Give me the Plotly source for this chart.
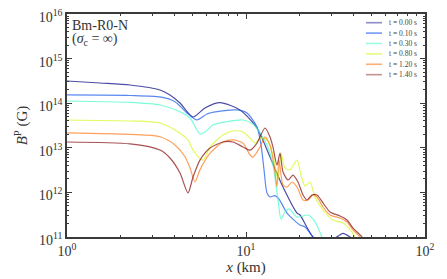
import plotly.graph_objects as go

# ---------------- data (x in km, B^P in G) ----------------
times = ["0.00", "0.10", "0.30", "0.80", "1.20", "1.40"]

x_t000 = [1.00, 1.53, 2.25, 3.31, 3.76, 4.28, 5.06, 5.90, 7.16, 9.26, 11.52, 13.62, 16.10,
          19.27, 20.03, 23.67, 27.63, 32.66, 34.83, 38.11, 43.35]
B_t000 = [3.15e14, 2.84e14, 2.56e14, 1.98e14, 1.53e14, 1.01e14, 4.91e13, 7.8e13, 1.03e14, 7.05e13,
          2.78e13, 6.2e12, 1.32e12, 3.45e11, 3.11e11, 1.0e11, 6.6e10, 1.05e11, 1.20e11, 1.0e11, 6.6e10]

x_t010 = [1.00, 2.25, 3.31, 4.01, 4.68, 5.32, 6.05, 6.89, 8.91, 10.13, 11.52, 12.13, 12.61, 13.10,
          13.62, 14.52, 15.29, 16.95, 20.03, 21.37, 23.67, 25.91]
B_t010 = [1.53e14, 1.49e14, 1.38e14, 1.08e14, 6.03e13, 4.20e13, 5.73e13, 6.45e13, 7.05e13, 6.03e13,
          2.93e13, 1.16e13, 3.2e12, 9.7e11, 7.9e11, 8.5e11, 7.1e11, 3.45e11, 1.86e11, 1.68e11, 1.0e11, 6.6e10]

x_t030 = [1.00, 2.25, 3.31, 4.28, 4.87, 5.53, 5.90, 6.54, 7.83, 9.62, 10.94, 11.98, 13.10, 14.15,
          15.10, 15.69, 16.52, 17.39, 19.27, 22.21, 23.98, 25.57, 26.93]
B_t030 = [1.12e14, 1.04e14, 9.1e13, 6.45e13, 4.66e13, 2.04e13, 2.26e13, 3.25e13, 3.85e13, 4.20e13,
          3.42e13, 2.15e13, 1.16e13, 4.1e12, 6.76e11, 2.53e11, 3.64e11, 4.25e11, 2.81e11, 3.11e11,
          2.40e11, 1.44e11, 8.6e10]

x_t080 = [1.00, 2.25, 3.31, 4.01, 4.74, 5.06, 5.75, 6.30, 7.44, 8.46, 9.62, 10.53, 11.23, 11.98,
          13.10, 14.15, 15.10, 15.69, 16.52, 17.61, 19.27, 20.29, 21.37, 22.78, 24.29, 26.93, 30.62,
          34.83, 39.10, 40.64, 43.35]
B_t080 = [4.20e13, 3.99e13, 3.60e13, 2.51e13, 1.50e13, 8.9e12, 5.3e12, 1.04e13, 1.94e13, 2.38e13,
          2.26e13, 1.66e13, 1.28e13, 1.66e13, 1.50e13, 6.9e12, 1.90e12, 7.6e12, 3.5e12, 3.2e12,
          5.3e12, 2.45e12, 1.39e12, 1.71e12, 7.9e11, 4.03e11, 2.40e11, 2.06e11, 1.30e11, 1.0e11, 6.6e10]

x_t120 = [1.00, 2.25, 3.31, 4.01, 4.56, 4.87, 5.19, 5.53, 6.30, 7.44, 8.46, 9.62, 10.53, 10.94,
          11.98, 12.77, 13.62, 14.52, 14.90, 15.29, 16.10, 16.95, 18.07, 19.27, 20.82, 22.21, 23.67,
          24.93, 26.93, 29.47, 33.51, 36.67, 39.61, 43.35, 46.2]
B_t120 = [2.15e13, 1.99e13, 1.77e13, 1.16e13, 6.3e12, 3.5e12, 1.71e12, 3.2e12, 7.6e12, 1.35e13,
          1.50e13, 1.28e13, 6.9e12, 6.2e12, 1.04e13, 1.75e13, 1.16e13, 2.86e12, 1.32e12, 5.3e12,
          1.47e12, 1.32e12, 1.71e12, 1.32e12, 6.76e11, 6.76e11, 8.75e11, 7.9e11, 4.7e11, 3.11e11,
          2.67e11, 2.17e11, 1.44e11, 1.0e11, 6.6e10]

x_t140 = [1.00, 2.25, 3.31, 3.76, 4.28, 4.74, 5.06, 5.53, 6.30, 7.44, 8.46, 9.62, 10.53, 11.52,
          12.77, 13.62, 14.15, 14.90, 15.49, 16.10, 17.17, 18.30, 19.52, 20.82, 21.92, 23.38, 24.93,
          26.93, 29.47, 33.51, 36.67, 39.61, 44.47, 47.4]
B_t140 = [1.35e13, 1.22e13, 8.9e12, 5.9e12, 2.72e12, 9.7e11, 2.21e12, 5.3e12, 9.9e12, 1.35e13,
          1.35e13, 1.04e13, 8.9e12, 1.28e13, 2.78e13, 1.75e13, 1.04e13, 4.1e12, 7.6e12, 2.86e12,
          1.90e12, 2.45e12, 1.71e12, 8.75e11, 6.76e11, 8.75e11, 8.75e11, 5.8e11, 3.64e11, 2.96e11,
          2.40e11, 1.59e11, 1.0e11, 6.6e10]

x_ticks = [1, 10, 100]
x_ticktext = ["10<sup>0</sup>", "10<sup>1</sup>", "10<sup>2</sup>"]
y_ticks = [1e11, 1e12, 1e13, 1e14, 1e15, 1e16]
y_ticktext = ["10<sup>11</sup>", "10<sup>12</sup>", "10<sup>13</sup>",
              "10<sup>14</sup>", "10<sup>15</sup>", "10<sup>16</sup>"]

# ---------------- style ----------------
colors = ["rgba(0,0,128,0.7)", "rgba(20,85,235,0.7)", "rgba(70,250,200,0.7)",
          "rgba(210,250,30,0.72)", "rgba(255,120,20,0.7)", "rgba(130,10,10,0.7)"]
legend_colors = ["rgba(0,0,128,0.45)", "rgba(20,85,235,0.6)", "rgba(70,250,200,0.55)",
                 "rgba(210,250,30,0.6)", "rgba(255,120,20,0.6)", "rgba(130,10,10,0.45)"]
FONT = "Liberation Serif"
AX = "#3a3a3a"

xs = [x_t000, x_t010, x_t030, x_t080, x_t120, x_t140]
Bs = [B_t000, B_t010, B_t030, B_t080, B_t120, B_t140]

fig = go.Figure()
for t, xv, bv, c in zip(times, xs, Bs, colors):
    fig.add_trace(go.Scatter(x=xv, y=bv, mode="lines", name=f"t = {t} s",
                             line=dict(color=c, width=1.2, shape="spline", smoothing=0.7),
                             showlegend=False))

minor_x = [m * 10 ** e for e in range(0, 2) for m in range(2, 10)]
minor_y = [m * 10 ** e for e in range(11, 16) for m in range(2, 10)]

axis_common = dict(type="log", showgrid=False, zeroline=False, showline=True, linecolor=AX,
                   linewidth=1.5, mirror="ticks", ticks="inside", ticklen=5, tickwidth=1.2,
                   tickcolor=AX, automargin=False, ticklabeloverflow="allow",
                   tickfont=dict(family=FONT, size=14, color="#333"))

fig.update_xaxes(range=[0, 2], tickmode="array", tickvals=x_ticks, ticktext=x_ticktext,
                 minor=dict(tickmode="array", tickvals=minor_x, ticks="inside", ticklen=2.5,
                            tickcolor=AX, tickwidth=1),
                 title=dict(text="<i>x</i> (km)", font=dict(family=FONT, size=15, color="#333"),
                            standoff=2),
                 **axis_common)
fig.update_yaxes(range=[11, 16], tickmode="array", tickvals=y_ticks, ticktext=y_ticktext,
                 ticklabelshift=3,
                 minor=dict(tickmode="array", tickvals=minor_y, ticks="inside", ticklen=2.5,
                            tickcolor=AX, tickwidth=1),
                 title=dict(text="<i>B</i><sup>P</sup> (G)", font=dict(family=FONT, size=15, color="#333"),
                            standoff=7),
                 **axis_common)

# legend drawn manually (compact rows)
for i, (t, c) in enumerate(zip(times, legend_colors)):
    yy = 0.961 - i * 0.0466
    fig.add_shape(type="line", xref="paper", yref="paper", x0=0.835, x1=0.880, y0=yy, y1=yy,
                  line=dict(color=c, width=1.6))
    fig.add_annotation(xref="paper", yref="paper", x=0.893, y=yy, xanchor="left", yanchor="middle",
                       text=f"t = {t} s", showarrow=False,
                       font=dict(family=FONT, size=7.5, color="#444"))

fig.add_annotation(xref="paper", yref="paper", x=0.008, y=0.95, xanchor="left", yanchor="middle",
                   text="Bm-R0-N", showarrow=False, font=dict(family=FONT, size=14, color="#333"))
fig.add_annotation(xref="paper", yref="paper", x=0.008, y=0.885, xanchor="left", yanchor="middle",
                   text="(<i>σ</i><sub>c</sub> = ∞)", showarrow=False,
                   font=dict(family=FONT, size=14, color="#333"))

# the page body adds an 8px offset, so the figure is drawn 8px smaller with shifted margins
fig.update_layout(width=439, height=271, margin=dict(l=59, r=22, t=6, b=42),
                  paper_bgcolor="white", plot_bgcolor="white")

fig.write_html("out.html")
